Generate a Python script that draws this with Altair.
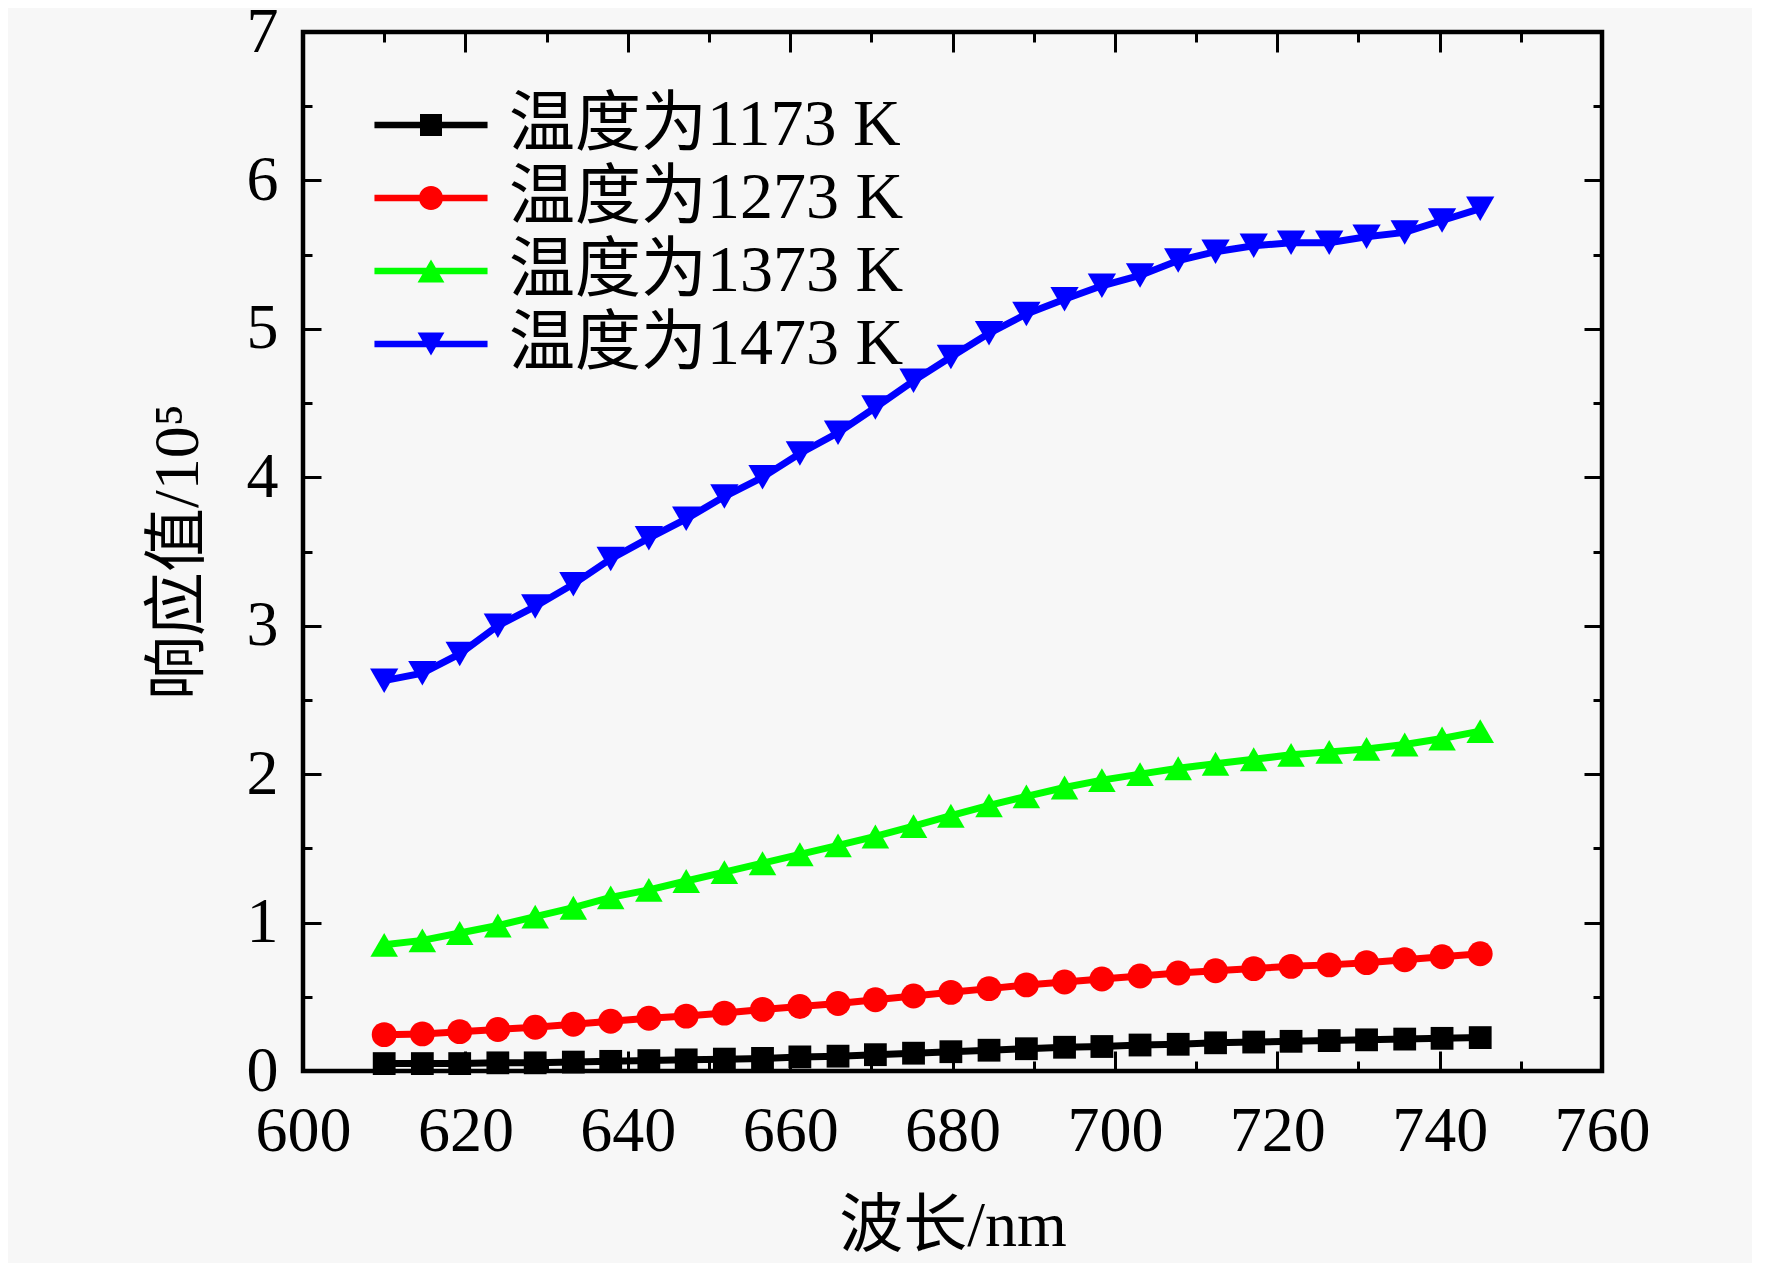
import altair as alt
import pandas as pd

# ---------------- data ----------------
wavelength = [610.0, 614.7, 619.3, 624.0, 628.6, 633.3, 637.9, 642.6, 647.2, 651.9,
              656.6, 661.2, 665.9, 670.5, 675.2, 679.8, 684.5, 689.1, 693.8, 698.4,
              703.1, 707.8, 712.4, 717.1, 721.7, 726.4, 731.0, 735.7, 740.3, 745.0]

resp_1173 = [0.05, 0.05, 0.05, 0.055, 0.055, 0.06, 0.065, 0.07, 0.075, 0.08,
             0.085, 0.095, 0.10, 0.11, 0.12, 0.13, 0.14, 0.15, 0.16, 0.165,
             0.175, 0.18, 0.19, 0.195, 0.20, 0.205, 0.21, 0.215, 0.22, 0.225]

resp_1273 = [0.245, 0.25, 0.265, 0.28, 0.295, 0.315, 0.335, 0.355, 0.37, 0.39,
             0.415, 0.435, 0.455, 0.48, 0.505, 0.53, 0.555, 0.58, 0.60, 0.62,
             0.64, 0.66, 0.675, 0.69, 0.705, 0.715, 0.73, 0.75, 0.77, 0.79]

resp_1373 = [0.85, 0.88, 0.93, 0.98, 1.04, 1.10, 1.17, 1.22, 1.28, 1.34,
             1.40, 1.46, 1.52, 1.58, 1.65, 1.72, 1.79, 1.85, 1.91, 1.96,
             2.00, 2.04, 2.07, 2.10, 2.13, 2.15, 2.17, 2.20, 2.24, 2.29]

resp_1473 = [2.63, 2.68, 2.81, 3.00, 3.13, 3.28, 3.45, 3.59, 3.72, 3.87,
             4.00, 4.16, 4.30, 4.47, 4.65, 4.81, 4.97, 5.10, 5.20, 5.29,
             5.36, 5.46, 5.52, 5.56, 5.58, 5.58, 5.62, 5.65, 5.73, 5.81]

series_names = ["温度为1173 K", "温度为1273 K", "温度为1373 K", "温度为1473 K"]
series_colors = ["#000000", "#ff0000", "#00ff00", "#0000ff"]
series_values = [resp_1173, resp_1273, resp_1373, resp_1473]

x_major = [600, 620, 640, 660, 680, 700, 720, 740, 760]
x_minor = [610, 630, 650, 670, 690, 710, 730, 750]
y_major = [0, 1, 2, 3, 4, 5, 6, 7]
y_minor = [0.5, 1.5, 2.5, 3.5, 4.5, 5.5, 6.5]

rows = []
for name, vals in zip(series_names, series_values):
    for w, v in zip(wavelength, vals):
        rows.append({"wavelength": w, "value": v, "series": name})
df = pd.DataFrame(rows)

# ---------------- layout ----------------
W, H = 1299, 1039
SERIF = "Liberation Serif, Noto Sans CJK SC"

xscale = alt.Scale(domain=[600, 760], nice=False, zero=False)
yscale = alt.Scale(domain=[0, 7], nice=False, zero=True)
cscale = alt.Scale(domain=series_names, range=series_colors)

# legend symbols: line segment + marker (custom paths)
LINE = "M-5.14,-0.3H5.14V0.3H-5.14Z "
legend_paths = [
    LINE + "M-1,-1H1V1H-1Z",
    LINE + "M-1.09,0A1.09,1.09 0 1,1 1.09,0A1.09,1.09 0 1,1 -1.09,0Z",
    LINE + "M0,-1.05L1.22,1.05L-1.22,1.05Z",
    LINE + "M0,1.05L-1.22,-1.05L1.22,-1.05Z",
]
shape_scale = alt.Scale(domain=series_names, range=legend_paths)


def tick_axis(orient, offset, values, size):
    return alt.Axis(orient=orient, offset=offset, values=values, tickSize=size,
                    ticks=True, tickColor="black", tickWidth=3, labels=False,
                    domain=False, grid=False, title=None)


label_x_axis = alt.Axis(orient="bottom", values=x_major, format="d", ticks=False,
                        domain=False, grid=False, labelPadding=28,
                        labelFlush=False, labelOverlap=False,
                        labelFont="Liberation Serif", labelFontSize=64,
                        labelColor="black", title="波长/nm", titleFont=SERIF,
                        titleFontSize=64, titleFontWeight="normal",
                        titleColor="black", titlePadding=31)
label_y_axis = alt.Axis(orient="left", values=y_major, format="d", ticks=False,
                        domain=False, grid=False, labelPadding=25,
                        labelFlush=False, labelOverlap=False,
                        labelFont="Liberation Serif", labelFontSize=64,
                        labelColor="black", title="响应值/10⁵", titleFont=SERIF,
                        titleFontSize=64, titleFontWeight="normal",
                        titleColor="black", titlePadding=36)

base = alt.Chart(df)

# legend-only layer (no marks drawn: its data is filtered out)
legend_def = alt.Legend(orient="none", legendX=95, legendY=60, padding=0,
                        title=None, direction="vertical",
                        labelFont=SERIF, labelFontSize=66, labelColor="black",
                        labelOffset=45, labelLimit=2000, rowPadding=7,
                        symbolSize=484, symbolStrokeWidth=0, symbolOpacity=1)

legend_layer = base.transform_filter("false").mark_point(
    filled=True, size=484, opacity=1
).encode(
    x=alt.X("wavelength:Q", scale=xscale, axis=label_x_axis),
    y=alt.Y("value:Q", scale=yscale, axis=label_y_axis),
    color=alt.Color("series:N", scale=cscale, legend=legend_def),
    shape=alt.Shape("series:N", scale=shape_scale, legend=legend_def),
)

line_layers = []
for name, col in zip(series_names, series_colors):
    line_layers.append(
        base.transform_filter(alt.datum.series == name)
        .mark_line(strokeWidth=7, color=col)
        .encode(
            x=alt.X("wavelength:Q", scale=xscale, axis=None),
            y=alt.Y("value:Q", scale=yscale, axis=None),
        )
    )

marker_specs = [
    ("square", 520, tick_axis("top", -H, x_major, 20), tick_axis("right", -W, y_major, 18)),
    ("circle", 620, tick_axis("top", -H, x_minor, 10), tick_axis("right", -W, y_minor, 9)),
    ("triangle-up", 760, tick_axis("bottom", -H, x_major, 20), tick_axis("left", -W, y_major, 18)),
    ("triangle-down", 800, tick_axis("bottom", -H, x_minor, 10), tick_axis("left", -W, y_minor, 9)),
]

point_layers = []
for name, col, (shape, size, xa, ya) in zip(series_names, series_colors, marker_specs):
    point_layers.append(
        base.transform_filter(alt.datum.series == name)
        .mark_point(shape=shape, size=size, filled=True, opacity=1, color=col)
        .encode(
            x=alt.X("wavelength:Q", scale=xscale, axis=xa),
            y=alt.Y("value:Q", scale=yscale, axis=ya),
        )
    )

chart = (
    alt.layer(legend_layer, *line_layers, *point_layers)
    .resolve_axis(x="independent", y="independent")
    .resolve_scale(x="shared", y="shared")
    .properties(
        width=W, height=H,
        autosize=alt.AutoSizeParams(type="none"),
        padding={"left": 295, "top": 24, "right": 150, "bottom": 192},
        background="#f7f7f7",
    )
    .configure_view(stroke="black", strokeWidth=4.5)
)

chart.save("out.html", embed_options={"renderer": "svg", "actions": False})
